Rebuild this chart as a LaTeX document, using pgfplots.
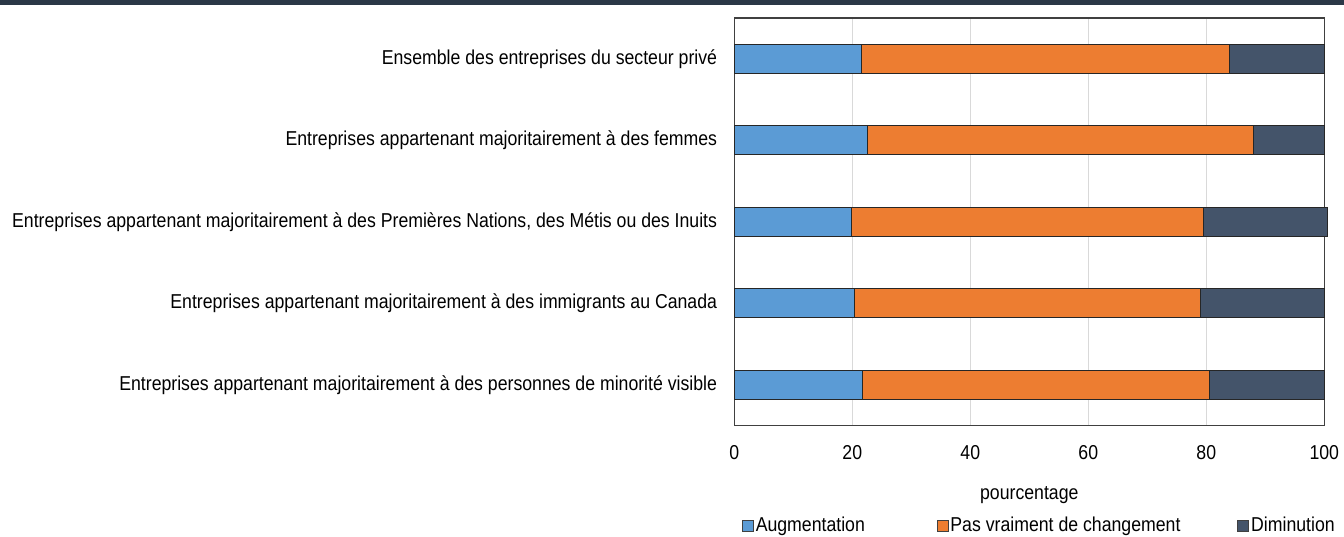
\documentclass[border=0pt]{standalone}
\usepackage{pgfplots}
\pgfplotsset{compat=1.18}
\usepackage{fontspec}
\setmainfont{Liberation Sans}[FakeStretch=0.88]
\definecolor{cblue}{HTML}{5B9BD5}
\definecolor{corange}{HTML}{ED7D31}
\definecolor{cdark}{HTML}{44546A}
\definecolor{ctop}{HTML}{2B3847}
\begin{document}
\fontsize{20.1}{24}\selectfont
\begin{tikzpicture}[x=1pt,y=1pt]
\path[use as bounding box] (0,0) rectangle (1344,536);
\fill[ctop] (0,531) rectangle (1344,535.5);
\begin{axis}[
  at={(734.3pt,110.3pt)}, anchor=south west,
  scale only axis, width=590pt, height=407.7pt,
  xbar stacked, bar width=29pt, clip=false,
  xmin=0, xmax=100, ymin=-0.5, ymax=4.5,
  y dir=reverse,
  xtick={0,20,40,60,80,100},
  ytick={0,1,2,3,4},
  yticklabels={Ensemble des entreprises du secteur privé,
    Entreprises appartenant majoritairement à des femmes,
    {Entreprises appartenant majoritairement à des Premières Nations, des Métis ou des Inuits},
    Entreprises appartenant majoritairement à des immigrants au Canada,
    Entreprises appartenant majoritairement à des personnes de minorité visible},
  major tick length=0pt,
  xmajorgrids, grid style={draw=black!15, line width=0.8pt},
  axis line style={draw=black!75, line width=1.1pt},
  /pgf/number format/assume math mode=true,
  tick label style={font=\fontsize{20.1}{24}\selectfont},
  yticklabel style={inner xsep=0pt, xshift=-17pt},
  xticklabel style={inner ysep=0pt, yshift=-20pt},
  xlabel={pourcentage},
  xlabel style={font=\fontsize{20.1}{24}\selectfont, inner ysep=0pt, yshift=-26pt},
  legend columns=3,
  legend style={at={(rel axis cs:0.0128,-0.246)}, anchor=west, draw=none, inner sep=0pt,
    font=\fontsize{20.1}{24}\selectfont,
    nodes={inner sep=0pt},
    /tikz/every odd column/.append style={column sep=2pt},
    /tikz/every even column/.append style={column sep=0pt}},
  legend image code/.code={\draw[#1, line width=0.7pt, draw=black!75] (0pt,-5.5pt) rectangle (11pt,5.5pt);},
  every axis plot/.append style={draw=black!85, line width=1.1pt},
]
\addplot[fill=cblue] coordinates {(21.6,0) (22.6,1) (19.8,2) (20.4,3) (21.8,4)};
\addplot[fill=corange] coordinates {(62.4,0) (65.4,1) (59.7,2) (58.6,3) (58.8,4)};
\addplot[fill=cdark] coordinates {(16.0,0) (12.0,1) (21.1,2) (21.0,3) (19.4,4)};
\addlegendentry{\makebox[181pt][l]{Augmentation}}
\addlegendentry{\makebox[287pt][l]{Pas vraiment de changement}}
\addlegendentry{Diminution}
\end{axis}
\end{tikzpicture}
\end{document}
